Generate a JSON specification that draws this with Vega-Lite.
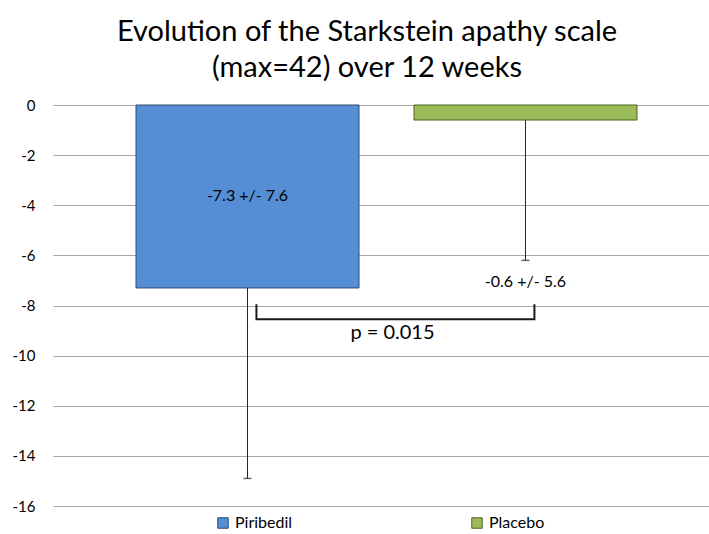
{
  "$schema": "https://vega.github.io/schema/vega-lite/v6.json",
  "autosize": "none",
  "width": 656,
  "height": 401,
  "padding": {"left": 53, "top": 105, "right": 0, "bottom": 28},
  "background": "white",
  "config": {
    "view": {"stroke": null},
    "font": "Lato",
    "axis": {"labelFont": "Lato", "labelColor": "#000000"},
    "legend": {"labelFont": "Lato"}
  },
  "title": {
    "text": ["Evolution of the Starkstein apathy scale", "(max=42) over 12 weeks"],
    "font": "Lato",
    "fontSize": 29,
    "fontWeight": "normal",
    "color": "#000000",
    "anchor": "middle",
    "dx": -14,
    "offset": 15,
    "lineHeight": 36
  },
  "datasets": {
    "groups": [
      {"group": "Piribedil", "mean": -7.3, "sd": 7.6, "lower": -14.9, "label": "-7.3 +/- 7.6", "label_y": -3.65},
      {"group": "Placebo", "mean": -0.6, "sd": 5.6, "lower": -6.2, "label": "-0.6 +/- 5.6", "label_y": -7.05}
    ],
    "bracket": [
      {"group": "Piribedil", "y": -7.95, "i": 1},
      {"group": "Piribedil", "y": -8.55, "i": 2},
      {"group": "Placebo", "y": -8.55, "i": 3},
      {"group": "Placebo", "y": -7.95, "i": 4}
    ],
    "pvalue": [
      {"group": "Piribedil", "y": -9.1, "text": "p = 0.015"}
    ]
  },
  "encoding": {
    "x": {
      "field": "group",
      "type": "nominal",
      "axis": null,
      "scale": {"domain": ["Piribedil", "Placebo"], "paddingInner": 0.1978, "paddingOuter": 0.2788, "align": 0.5355}
    }
  },
  "layer": [
    {
      "data": {"name": "groups"},
      "mark": {"type": "bar", "strokeWidth": 1},
      "encoding": {
        "y": {
          "field": "mean",
          "type": "quantitative",
          "scale": {"domain": [-16, 0], "nice": false, "zero": false},
          "axis": {
            "title": null,
            "values": [-16, -14, -12, -10, -8, -6, -4, -2, 0],
            "labelExpr": "'' + datum.value",
            "grid": true,
            "gridColor": "#a6a6a6",
            "gridWidth": 1,
            "ticks": false,
            "domain": false,
            "labelPadding": 18,
            "labelFontSize": 15
          }
        },
        "y2": {"datum": 0},
        "color": {
          "field": "group",
          "type": "nominal",
          "scale": {"domain": ["Piribedil", "Placebo"], "range": ["#558ED5", "#9BBB59"]},
          "legend": {
            "title": null,
            "orient": "none",
            "legendX": 162,
            "legendY": 410,
            "direction": "horizontal",
            "symbolType": "square",
            "symbolSize": 110,
            "symbolStrokeWidth": 1,
            "labelFontSize": 16,
            "labelColor": "#000000",
            "labelOffset": 4,
            "columnPadding": 176
          }
        },
        "stroke": {
          "field": "group",
          "type": "nominal",
          "scale": {"domain": ["Piribedil", "Placebo"], "range": ["#2c4d75", "#4f6228"]}
        }
      }
    },
    {
      "data": {"name": "groups"},
      "mark": {"type": "rule", "color": "#262626", "strokeWidth": 1},
      "encoding": {
        "y": {"field": "mean", "type": "quantitative"},
        "y2": {"field": "lower"}
      }
    },
    {
      "data": {"name": "groups"},
      "mark": {"type": "tick", "color": "#262626", "size": 8, "thickness": 1.5},
      "encoding": {
        "y": {"field": "lower", "type": "quantitative"}
      }
    },
    {
      "data": {"name": "groups"},
      "mark": {"type": "text", "fontSize": 16, "color": "#000000", "baseline": "middle", "align": "center"},
      "encoding": {
        "y": {"field": "label_y", "type": "quantitative"},
        "text": {"field": "label"}
      }
    },
    {
      "data": {"name": "bracket"},
      "mark": {"type": "line", "color": "#1a1a1a", "strokeWidth": 2},
      "encoding": {
        "x": {"field": "group", "type": "nominal", "bandPosition": 0.54},
        "y": {"field": "y", "type": "quantitative"},
        "order": {"field": "i"}
      }
    },
    {
      "data": {"name": "pvalue"},
      "mark": {"type": "text", "fontSize": 20, "color": "#000000", "baseline": "middle", "align": "center"},
      "encoding": {
        "x": {"field": "group", "type": "nominal", "bandPosition": 1.15},
        "y": {"field": "y", "type": "quantitative"},
        "text": {"field": "text"}
      }
    }
  ]
}
